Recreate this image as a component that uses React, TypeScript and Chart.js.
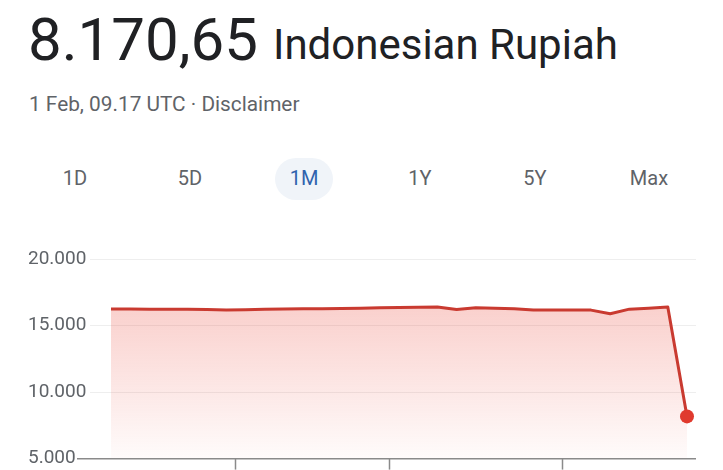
import React, { useEffect, useRef } from "react";
import { Chart, registerables } from "chart.js";

Chart.register(...registerables);

// ---- data ----
const dates: string[] = [
  "1 Jan", "2 Jan", "3 Jan", "4 Jan", "5 Jan", "6 Jan", "7 Jan", "8 Jan",
  "9 Jan", "10 Jan", "11 Jan", "12 Jan", "13 Jan", "14 Jan", "15 Jan", "16 Jan",
  "17 Jan", "18 Jan", "19 Jan", "20 Jan", "21 Jan", "22 Jan", "23 Jan", "24 Jan",
  "25 Jan", "26 Jan", "27 Jan", "28 Jan", "29 Jan", "30 Jan", "1 Feb",
];
const rates: number[] = [
  16250, 16240, 16230, 16225, 16220, 16200, 16170, 16180,
  16220, 16250, 16260, 16270, 16280, 16300, 16330, 16350,
  16380, 16400, 16200, 16340, 16300, 16270, 16160, 16160,
  16160, 16160, 15880, 16230, 16300, 16400, 8170.65,
];
const yTicks: number[] = [5000, 10000, 15000, 20000];
const xTickMarks: number[] = [6.46, 14.48, 23.49];
const tabs: string[] = ["1D", "5D", "1M", "1Y", "5Y", "Max"];
const activeTab = "1M";

const FONT = 'Roboto, "Noto Sans", "DejaVu Sans", sans-serif';

function fmt(v: number): string {
  return Math.round(v).toString().replace(/\B(?=(\d{3})+(?!\d))/g, ".");
}

function LineChart() {
  const ref = useRef<HTMLCanvasElement | null>(null);
  useEffect(() => {
    if (!ref.current) return;
    const lastIdx = rates.length - 1;
    const chart = new Chart(ref.current, {
      type: "line",
      data: {
        datasets: [
          {
            label: "IDR",
            data: rates.map((v, i) => ({ x: i, y: v })),
            borderColor: "#c93a30",
            borderWidth: 3,
            tension: 0,
            borderJoinStyle: "round",
            fill: "start",
            backgroundColor: (context: any) => {
              const { ctx, chartArea } = context.chart;
              if (!chartArea) return "rgba(234,67,53,0.15)";
              const g = ctx.createLinearGradient(0, chartArea.top, 0, chartArea.bottom);
              g.addColorStop(0, "rgba(234,67,53,0.32)");
              g.addColorStop(1, "rgba(234,67,53,0.02)");
              return g;
            },
            pointRadius: (c: any) => (c.dataIndex === lastIdx ? 7 : 0),
            pointBackgroundColor: "#e03a2e",
            pointBorderColor: "#e03a2e",
            pointBorderWidth: 0,
          },
        ],
      },
      options: {
        responsive: false,
        animation: false,
        devicePixelRatio: 1,
        layout: { padding: { left: 28, right: 27, top: 29, bottom: 0 } },
        plugins: { legend: { display: false }, tooltip: { enabled: false } },
        scales: {
          x: {
            type: "linear",
            min: -1.094,
            max: 30.469,
            afterBuildTicks: (scale: any) => {
              scale.ticks = xTickMarks.map((v) => ({ value: v }));
            },
            afterFit: (scale: any) => {
              scale.height = 11;
            },
            ticks: { display: false },
            border: { display: false },
            grid: {
              display: true,
              drawOnChartArea: false,
              drawTicks: true,
              tickLength: 11,
              tickColor: "#8a8a8a",
              tickWidth: 1.5,
              color: "#8a8a8a",
            },
          },
          y: {
            type: "linear",
            min: 5000,
            max: 20000,
            afterBuildTicks: (scale: any) => {
              scale.ticks = yTicks.map((v) => ({ value: v }));
            },
            afterFit: (scale: any) => {
              scale.width = 62;
            },
            border: { display: false },
            grid: {
              color: (c: any) => (c.tick && c.tick.value === 5000 ? "#8a8a8a" : "#eeeeee"),
              lineWidth: (c: any) => (c.tick && c.tick.value === 5000 ? 1.5 : 1),
              drawTicks: true,
              tickLength: 13,
              tickColor: (c: any) => (c.tick && c.tick.value === 5000 ? "#8a8a8a" : "rgba(0,0,0,0)"),
              tickWidth: 1.5,
            },
            ticks: {
              crossAlign: "far",
              padding: 0,
              color: "#5f6368",
              font: { family: FONT, size: 19 },
              callback: (v: any) => fmt(Number(v)),
            },
          },
        },
      },
    } as any);
    return () => chart.destroy();
  }, []);
  return (
    <canvas
      ref={ref}
      width={723}
      height={240}
      style={{ position: "absolute", left: 0, top: 230, width: 723, height: 240 }}
    />
  );
}

const tabCenters: number[] = [75, 190, 304, 420, 535, 649];

export default function App() {
  return (
    <div
      style={{
        position: "absolute",
        left: 0,
        top: 0,
        width: 723,
        height: 470,
        background: "#ffffff",
        fontFamily: FONT,
        overflow: "hidden",
      }}
    >
      <div
        style={{
          position: "absolute",
          left: 28,
          top: 9.5,
          fontSize: 60,
          lineHeight: "60px",
          color: "#202124",
          whiteSpace: "nowrap",
        }}
      >
        {fmt(8170) + ",65"}
      </div>
      <div
        style={{
          position: "absolute",
          left: 273,
          top: 23.7,
          fontSize: 42,
          lineHeight: "42px",
          color: "#202124",
          whiteSpace: "nowrap",
        }}
      >
        Indonesian Rupiah
      </div>
      <div
        style={{
          position: "absolute",
          left: 29,
          top: 93.5,
          fontSize: 20.8,
          lineHeight: "20.8px",
          color: "#5f6368",
          whiteSpace: "nowrap",
        }}
      >
        {"1 Feb, 09.17 UTC · Disclaimer"}
      </div>
      {tabs.map((t, i) => {
        const active = t === activeTab;
        return (
          <div key={t}>
            {active && (
              <div
                style={{
                  position: "absolute",
                  left: tabCenters[i] - 29,
                  top: 158,
                  width: 58,
                  height: 42,
                  borderRadius: 21,
                  background: "#f0f4f9",
                }}
              />
            )}
            <div
              style={{
                position: "absolute",
                left: tabCenters[i] - 50,
                top: 168,
                width: 100,
                textAlign: "center",
                fontSize: 20,
                lineHeight: "20px",
                color: active ? "#2f62ad" : "#5f6368",
              }}
            >
              {t}
            </div>
          </div>
        );
      })}
      <LineChart />
    </div>
  );
}
